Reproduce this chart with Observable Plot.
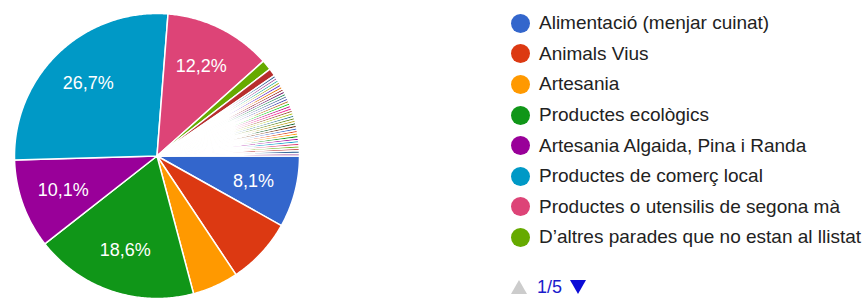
<!DOCTYPE html>
<html>
<head>
<meta charset="utf-8">
<script src="https://cdn.jsdelivr.net/npm/d3@7"></script>
<script src="https://cdn.jsdelivr.net/npm/@observablehq/plot@0.6"></script>
<style>
  html, body { margin: 0; padding: 0; background: #fff; }
  #wrap { position: relative; width: 868px; height: 299px; overflow: hidden; font-family: Arial, "Liberation Sans", Helvetica, sans-serif; }
  #chart { position: absolute; left: 0; top: 0; }
  #legend { position: absolute; left: 511px; top: 8px; }
  .row { display: flex; align-items: center; height: 30.6px; font-size: 19px; color: #222; white-space: nowrap; }
  .sw { width: 19px; height: 19px; border-radius: 50%; margin-right: 9px; flex: none; }
  #pager { position: absolute; left: 511px; top: 278px; display: flex; align-items: center; font-size: 18px; line-height: 18px; color: #1a1acc; }
  .up { width: 0; height: 0; border-left: 8.5px solid transparent; border-right: 8.5px solid transparent; border-bottom: 14px solid #cccccc; margin-right: 10px; }
  .down { width: 0; height: 0; border-left: 8.5px solid transparent; border-right: 8.5px solid transparent; border-top: 14px solid #0b0bd6; margin-left: 8px; }
</style>
</head>
<body>
<div id="wrap">
  <div id="chart"></div>
  <div id="legend"></div>
  <div id="pager"><span class="up"></span><span>1/5</span><span class="down"></span></div>
</div>
<script>
// Categories (first 8 visible in the legend, the rest are on later legend pages)
const namedCategories = [
  "Alimentació (menjar cuinat)",
  "Animals Vius",
  "Artesania",
  "Productes ecològics",
  "Artesania Algaida, Pina i Randa",
  "Productes de comerç local",
  "Productes o utensilis de segona mà",
  "D’altres parades que no estan al llistat"
];
const otherCategories = [
  "Altres 1","Altres 2","Altres 3","Altres 4","Altres 5","Altres 6","Altres 7","Altres 8",
  "Altres 9","Altres 10","Altres 11","Altres 12","Altres 13","Altres 14","Altres 15","Altres 16",
  "Altres 17","Altres 18","Altres 19","Altres 20","Altres 21","Altres 22","Altres 23","Altres 24",
  "Altres 25","Altres 26","Altres 27","Altres 28","Altres 29","Altres 30","Altres 31","Altres 32",
  "Altres 33","Altres 34"
];
const categories = namedCategories.concat(otherCategories);

// Response counts
const counts = [
  28, 26, 18, 64, 35, 92, 42, 4,
  3, 1, 1, 1, 1, 1, 1, 1,
  1, 1, 1, 1, 1, 1, 1, 1,
  1, 1, 1, 1, 1, 1, 1, 1,
  1, 1, 1, 1, 1, 1, 1, 1,
  1, 1
];

const basePalette = [
  "#3366cc","#dc3912","#ff9900","#109618","#990099","#0099c6","#dd4477","#66aa00",
  "#b82e2e","#316395","#994499","#22aa99","#aaaa11","#6633cc","#e67300","#8b0707",
  "#651067","#329262","#5574a6","#3b3eac","#b77322","#16d620","#b91383","#f4359e",
  "#9c5935","#a9c413","#2a778d","#668d1c","#bea413","#0c5922","#743411"
];
const palette = categories.map((c, i) => basePalette[i % basePalette.length]);

const total = d3.sum(counts);

// Build slice outlines (unit circle, angle clockwise from 3 o'clock)
const pts = [];
const labels = [];
let acc = 0;
categories.forEach((cat, i) => {
  const a0 = acc / total * 2 * Math.PI;
  acc += counts[i];
  const a1 = acc / total * 2 * Math.PI;
  pts.push({cat, x: 0, y: 0});
  const n = Math.max(2, Math.ceil((a1 - a0) / 0.01));
  for (let k = 0; k <= n; k++) {
    const a = a0 + (a1 - a0) * k / n;
    pts.push({cat, x: Math.cos(a), y: Math.sin(a)});
  }
  pts.push({cat, x: 0, y: 0});
  const pct = counts[i] / total * 100;
  if (pct >= 8) {
    const am = (a0 + a1) / 2;
    labels.push({cat, x: 0.7 * Math.cos(am), y: 0.7 * Math.sin(am), text: pct.toFixed(1).replace(".", ",") + "%"});
  }
});

const chart = Plot.plot({
  width: 868,
  height: 299,
  margin: 0,
  style: {background: "transparent", overflow: "visible"},
  x: {domain: [-1, 1], range: [14, 299], axis: null},
  y: {domain: [-1, 1], range: [13, 298], axis: null},
  color: {domain: categories, range: palette},
  marks: [
    Plot.line(pts, {x: "x", y: "y", z: "cat", fill: "cat", stroke: "white", strokeWidth: 1.5, strokeLinejoin: "round"}),
    Plot.text(labels, {x: "x", y: "y", text: "text", fill: "white", fontSize: 18, fontFamily: "Arial, 'Liberation Sans', sans-serif"})
  ]
});
document.getElementById("chart").appendChild(chart);

// Legend (page 1 of 5)
const legend = document.getElementById("legend");
namedCategories.forEach((cat, i) => {
  const row = document.createElement("div");
  row.className = "row";
  const sw = document.createElement("span");
  sw.className = "sw";
  sw.style.background = chart.scale("color").apply(cat);
  const t = document.createElement("span");
  t.textContent = cat;
  row.appendChild(sw);
  row.appendChild(t);
  legend.appendChild(row);
});
</script>
</body>
</html>
